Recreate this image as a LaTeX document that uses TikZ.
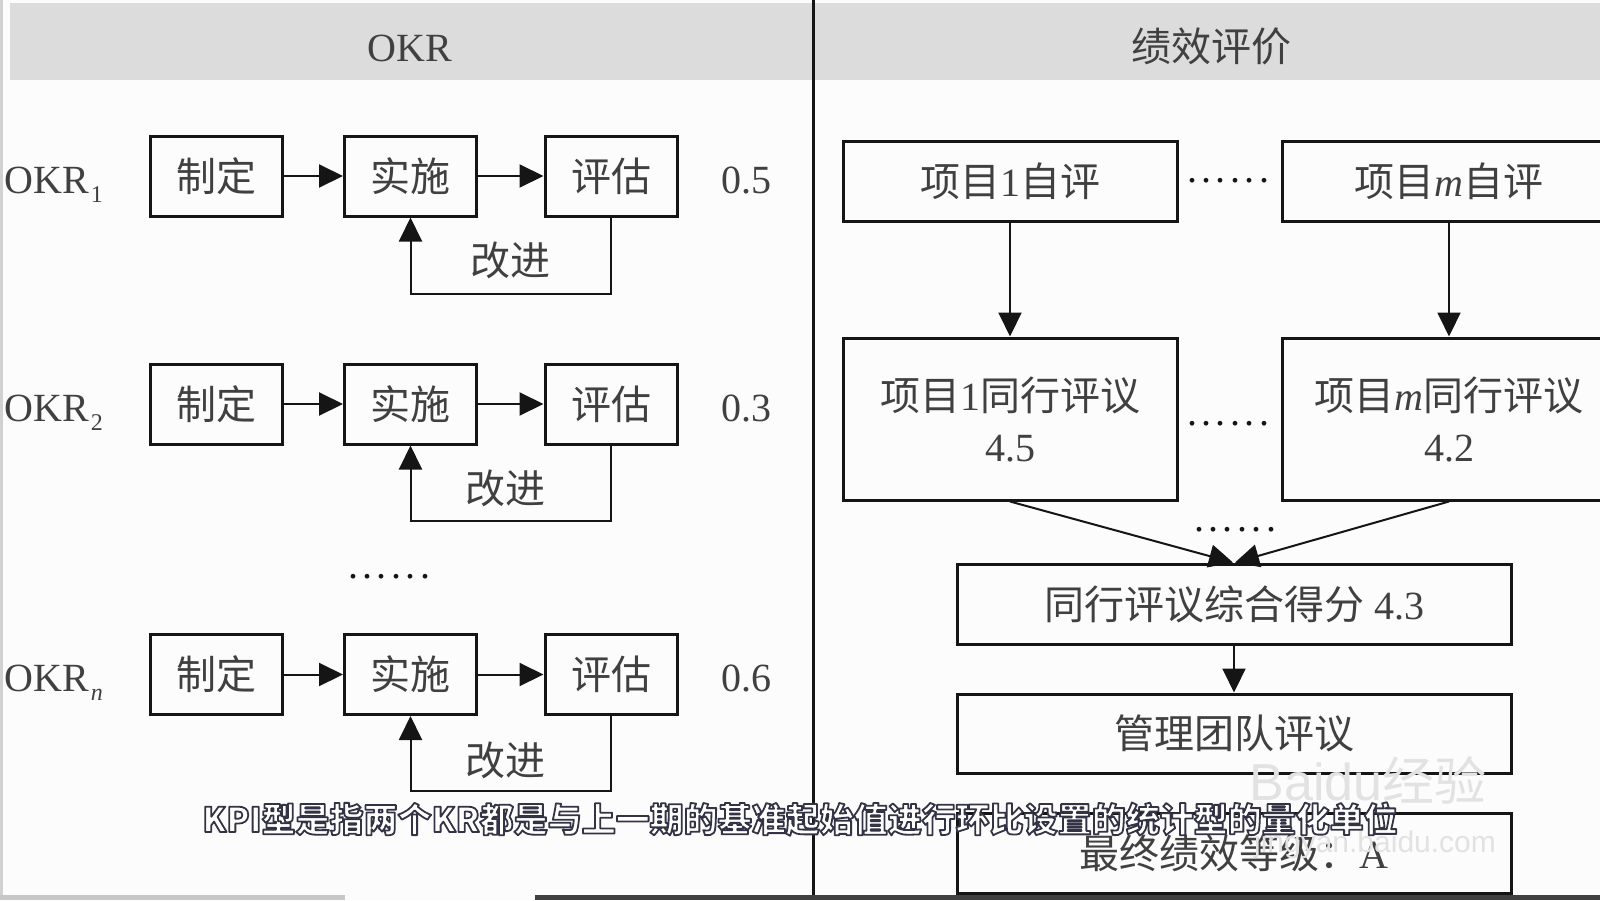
\documentclass[tikz,border=0pt]{standalone}
\usepackage{fontspec}
\setmainfont{Liberation Serif}
\newfontfamily\cjk{Noto Sans CJK SC}
\newfontfamily\sanslat{Liberation Sans}
\usetikzlibrary{arrows.meta}
\definecolor{bg}{HTML}{FCFCFC}
\definecolor{band}{HTML}{DCDCDC}
\definecolor{ink}{HTML}{151515}
\definecolor{txt}{HTML}{404040}
\definecolor{wm}{HTML}{E2E2E2}
\newcommand\zh[1]{{\cjk #1}}
\newcommand\sub[1]{\kern1pt\raisebox{-4.5pt}{\fontsize{12}{12}\selectfont #1}}
\newcommand\sixdots{.\kern2.2pt.\kern2.2pt.\kern2.2pt.\kern2.2pt.\kern2.2pt.}
\newcommand\outlined[1]{{\color{white}\special{pdf:literal direct 0.2 0.2 0.27 RG 0.9 w 1 j 2 Tr}#1\special{pdf:literal direct 0 Tr}}}
\begin{document}
\begin{tikzpicture}[x=0.5pt,y=-0.5pt,
  fz/.style={font=\fontsize{20}{25.5}\selectfont},
  lbl/.style={fz, text=txt, inner sep=0pt},
  box/.style={draw=ink, line width=1.5pt, inner sep=0pt, text=txt, fz, align=center},
  sbox/.style={box, minimum width=66pt, minimum height=40pt},
  conn/.style={draw=ink, line width=1pt, -{Triangle[length=12pt,width=11.5pt]}},
  dots/.style={font=\fontsize{20}{20}\selectfont, text=ink, inner sep=0pt},
  subt/.style={font=\fontsize{17}{17}\selectfont\cjk\bfseries, inner sep=0pt}
]
\useasboundingbox (0,0) rectangle (1600,900);
\fill[bg] (0,0) rectangle (1600,900);
\fill[black!18] (0,0) rectangle (3,900);
% header band
\fill[band] (10,3) rectangle (1600,80);
\node[lbl] (hokr) at (410,48) {OKR};
\node[lbl] (hperf) at (1211,46) {\zh{绩效评价}};
% divider
\draw[ink, line width=1.5pt] (813,0) -- (813,896);

% ---- left: OKR rows ----
\foreach \r/\cy/\fb/\sb/\val/\lx/\ly in {1/176/76/1/0.5/510/260, 2/404/75/2/0.3/505/488, 3/674.5/74.5/\textit{n}/0.6/505/760}{
  \node[sbox] (a\r) at (216,\cy) {\zh{制定}};
  \node[sbox] (b\r) at (410.5,\cy) {\zh{实施}};
  \node[sbox] (c\r) at (611,\cy) {\zh{评估}};
  \draw[conn] (a\r) -- (b\r);
  \draw[conn] (b\r) -- (c\r);
  \draw[conn] (c\r.south) -- ++(0,\fb) -| (b\r.south);
  \node[lbl] (f\r) at (\lx,\ly) {\zh{改进}};
  \node[lbl, anchor=base west] (k\r) at (4,\cy+17) {OKR\sub{\sb}};
  \node[lbl, anchor=base] (v\r) at (746,\cy+17) {\val};
}
\node[dots] (ldots) at (389,577) {\sixdots};

% ---- right: evaluation ----
\node[box, minimum width=167pt, minimum height=40pt] (s1) at (1010,181) {\zh{项目}1\zh{自评}};
\node[box, minimum width=167pt, minimum height=40pt] (sm) at (1449,181) {\zh{项目}\textit{m}\zh{自评}};
\node[dots] (d1) at (1228,181) {\sixdots};
\node[box, minimum width=167pt, minimum height=81pt] (p1) at (1010,419) {\zh{项目}1\zh{同行评议}\\4.5};
\node[box, minimum width=167pt, minimum height=81pt] (pm) at (1449,419) {\zh{项目}\textit{m}\zh{同行评议}\\4.2};
\node[dots] (d2) at (1228,424) {\sixdots};
\draw[conn] (s1) -- (p1);
\draw[conn] (sm) -- (pm);
\node[box, minimum width=277pt, minimum height=40pt] (g) at (1234,604) {\zh{同行评议综合得分} 4.3};
\draw[conn] (p1.south) -- ([xshift=-0.5pt]g.north);
\draw[conn] (pm.south) -- ([xshift=0.5pt]g.north);
\node[dots] (d3) at (1235,530) {\sixdots};
\node[box, minimum width=277pt, minimum height=39.5pt] (h) at (1234,733.5) {\zh{管理团队评议}};
\draw[conn] (g) -- (h);
\node[box, minimum width=277pt, minimum height=40pt] (i) at (1234,853) {\zh{最终绩效等级：}A};

% bottom strip
\fill[black!22] (0,895) rectangle (345,900);
\fill[black!75] (535,895) rectangle (1600,900);

% watermark
\node[font=\fontsize{26}{26}\selectfont\sanslat, text=wm, inner sep=0pt] (wm1) at (1368,780) {Baidu\zh{经验}};
\node[font=\fontsize{15}{15}\selectfont\sanslat, text=wm, inner sep=0pt] (wm2) at (1375,845) {jingyan.baidu.com};

% subtitle (white, dark outline)
\node[subt] (subtitle) at (800,819) {\outlined{KPI型是指两个KR都是与上一期的基准起始值进行环比设置的统计型的量化单位}};
\end{tikzpicture}
\end{document}
